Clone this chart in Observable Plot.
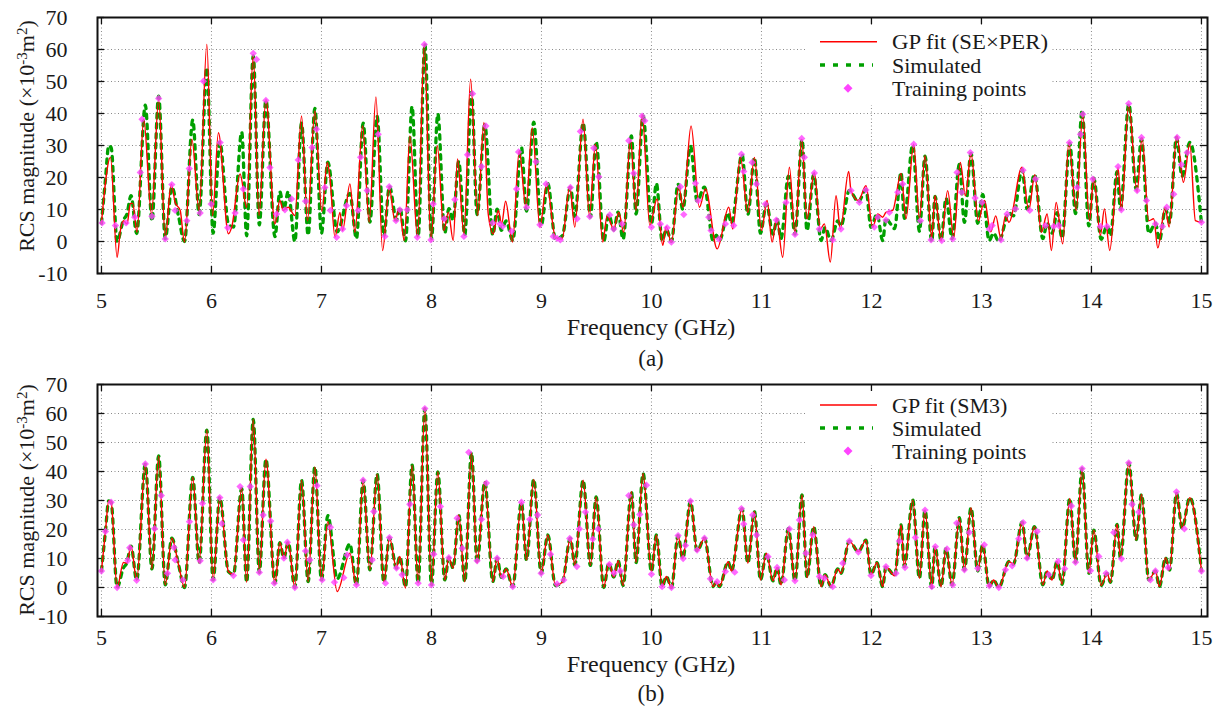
<!DOCTYPE html>
<html><head><meta charset="utf-8">
<script src="https://cdn.jsdelivr.net/npm/d3@7"></script>
<script src="https://cdn.jsdelivr.net/npm/@observablehq/plot@0.6"></script>
<style>
body{margin:0;background:#fff;}
#fig{position:relative;width:1217px;height:711px;font-family:"Liberation Serif",serif;color:#1a1a1a;overflow:hidden;}
#fig > *{position:absolute;}
.lbl{font-size:24px;white-space:nowrap;transform:translate(-50%,-50%);line-height:1;}
.cap{font-size:23px;white-space:nowrap;transform:translate(-50%,-50%);line-height:1;}
.ylbl{font-size:22px;white-space:nowrap;transform:translate(-50%,-50%) rotate(-90deg);line-height:1;}
.ylbl sup{font-size:15px;vertical-align:0.45em;line-height:0;}
</style></head><body><div id="fig"></div>
<script>
const xTicks = [5,6,7,8,9,10,11,12,13,14,15];
const yTicks = [-10,0,10,20,30,40,50,60,70];
const seriesLabels = ["GP fit (SE×PER)", "GP fit (SM3)", "Simulated", "Training points"];

// Simulated RCS magnitude (GHz, ×10^-3 m^2)
const simulated = [[5.000,5.7],[5.036,19.3],[5.066,29.9],[5.088,29.4],[5.142,0.0],[5.20,6.8],[5.23,8.4],[5.269,14.3],[5.32,2.5],[5.399,42.6],[5.459,6.4],[5.52,45.4],[5.58,0.9],[5.64,17.0],[5.70,8.0],[5.755,0.0],[5.83,38.0],[5.888,8.4],[5.958,54.3],[6.015,2.6],[6.076,31.1],[6.154,5.5],[6.20,4.5],[6.275,34.2],[6.32,1.8],[6.38,58.0],[6.435,5.2],[6.495,44.2],[6.577,1.5],[6.622,15.5],[6.658,10.1],[6.698,15.6],[6.758,0.0],[6.819,37.0],[6.879,2.0],[6.94,41.6],[7.0,2.6],[7.058,24.8],[7.143,3.0],[7.258,15.0],[7.318,0.9],[7.379,37.0],[7.44,6.1],[7.506,39.1],[7.567,1.8],[7.618,17.2],[7.682,6.7],[7.712,10.7],[7.764,0.2],[7.824,42.2],[7.879,1.5],[7.94,61.7],[8.0,0.9],[8.058,39.9],[8.121,2.6],[8.158,10.3],[8.197,6.7],[8.248,25.0],[8.303,2.0],[8.364,46.6],[8.415,8.4],[8.485,36.5],[8.558,2.0],[8.597,10.1],[8.635,3.5],[8.679,6.4],[8.739,0.3],[8.818,29.4],[8.864,9.5],[8.93,37.3],[8.997,4.9],[9.058,18.1],[9.127,0.7],[9.19,1.8],[9.263,17.0],[9.303,7.8],[9.379,37.0],[9.445,7.6],[9.497,31.2],[9.566,0.0],[9.612,8.4],[9.657,3.6],[9.697,9.2],[9.742,0.7],[9.818,33.0],[9.86,8.6],[9.924,39.3],[10.0,5.5],[10.045,18.1],[10.097,0.3],[10.136,3.8],[10.182,0.0],[10.242,17.9],[10.285,10.0],[10.355,29.8],[10.415,12.6],[10.482,17.0],[10.56,0.3],[10.59,2.0],[10.618,0.3],[10.697,8.9],[10.727,5.7],[10.824,27.2],[10.876,8.4],[10.936,26.2],[10.991,2.6],[11.045,11.8],[11.105,2.3],[11.142,6.9],[11.178,0.9],[11.245,20.4],[11.305,2.3],[11.369,31.9],[11.414,3.4],[11.475,21.0],[11.542,0.3],[11.578,4.4],[11.633,0.3],[11.693,6.4],[11.723,4.9],[11.799,16.0],[11.881,12.4],[11.95,16.3],[11.996,4.4],[12.05,8.6],[12.102,0.3],[12.132,7.2],[12.169,5.7],[12.21,4.0],[12.269,21.6],[12.299,7.2],[12.375,30.2],[12.436,3.2],[12.487,26.7],[12.548,0.0],[12.578,14.1],[12.633,0.3],[12.678,13.5],[12.733,0.9],[12.799,24.1],[12.845,6.0],[12.905,27.5],[12.966,5.7],[13.011,14.7],[13.07,0.3],[13.11,2.6],[13.158,0.0],[13.25,9.0],[13.29,8.0],[13.37,22.5],[13.415,10.1],[13.482,21.0],[13.558,0.9],[13.597,5.7],[13.642,2.6],[13.688,9.0],[13.733,1.1],[13.803,30.7],[13.855,8.7],[13.915,41.0],[13.976,4.9],[14.021,19.8],[14.088,0.7],[14.142,4.9],[14.173,1.8],[14.233,21.8],[14.264,10.1],[14.34,43.0],[14.406,16.4],[14.455,32.1],[14.521,2.6],[14.582,5.7],[14.618,0.3],[14.673,10.3],[14.71,6.0],[14.773,32.5],[14.824,20.4],[14.894,31.0],[15.0,5.7]];

// GP fit with SE×PER kernel (panel a)
const gpFitSEPER = [[5.0,5.8],[5.082,26.3],[5.142,-4.9],[5.172,3.4],[5.20,6.5],[5.233,5.5],[5.263,11.9],[5.284,11.9],[5.323,2.9],[5.384,38.2],[5.455,8.5],[5.52,44.4],[5.58,1.3],[5.634,18.0],[5.67,12.2],[5.716,9.7],[5.755,-0.2],[5.822,32.0],[5.888,9.7],[5.958,61.6],[6.01,8.1],[6.063,34.0],[6.154,2.4],[6.184,4.5],[6.26,21.1],[6.32,10.7],[6.38,58.4],[6.432,8.1],[6.495,44.4],[6.577,5.5],[6.622,12.8],[6.653,9.7],[6.698,10.7],[6.758,8.1],[6.819,39.2],[6.873,6.5],[6.94,40.8],[7.003,9.4],[7.053,24.7],[7.077,20.0],[7.123,1.3],[7.168,9.1],[7.192,3.4],[7.259,18.0],[7.304,2.9],[7.374,36.1],[7.434,6.0],[7.495,45.2],[7.556,-2.8],[7.616,16.9],[7.668,6.5],[7.707,10.2],[7.753,0.3],[7.804,33.0],[7.874,1.3],[7.935,61.6],[7.995,0.3],[8.053,29.9],[8.113,3.4],[8.153,9.1],[8.198,0.3],[8.237,25.8],[8.295,2.2],[8.356,50.7],[8.42,8.1],[8.477,37.2],[8.516,8.6],[8.562,2.4],[8.607,9.7],[8.638,5.5],[8.674,12.6],[8.737,-0.2],[8.798,28.3],[8.859,10.7],[8.916,35.6],[8.986,4.5],[9.047,18.0],[9.127,1.3],[9.188,0.8],[9.257,17.1],[9.303,4.5],[9.378,38.2],[9.436,8.1],[9.491,30.4],[9.557,-0.2],[9.597,8.1],[9.657,3.9],[9.703,9.1],[9.748,2.9],[9.809,32.0],[9.86,9.7],[9.915,39.8],[9.985,5.0],[10.051,13.3],[10.103,-1.2],[10.133,4.7],[10.181,-0.2],[10.248,17.1],[10.287,10.7],[10.36,36.1],[10.436,10.7],[10.491,16.4],[10.597,-2.3],[10.703,10.7],[10.739,3.9],[10.809,26.3],[10.876,9.1],[10.936,26.3],[11.0,3.4],[11.051,12.8],[11.097,-0.2],[11.138,7.1],[11.193,-4.9],[11.254,23.2],[11.305,2.4],[11.366,32.0],[11.414,7.1],[11.481,21.6],[11.535,3.9],[11.572,5.5],[11.626,-6.4],[11.678,14.3],[11.717,3.9],[11.793,21.9],[11.814,15.9],[11.881,12.8],[11.95,17.4],[12.011,4.5],[12.057,8.6],[12.102,7.6],[12.132,9.1],[12.193,9.7],[12.269,21.3],[12.314,7.1],[12.384,30.4],[12.436,7.1],[12.487,26.8],[12.548,1.1],[12.578,14.3],[12.633,0.3],[12.693,15.9],[12.748,1.3],[12.808,24.7],[12.854,14.3],[12.905,27.5],[12.972,6.5],[13.027,12.8],[13.085,3.0],[13.13,8.0],[13.178,0.8],[13.218,8.1],[13.25,6.0],[13.369,23.2],[13.43,9.7],[13.485,20.9],[13.545,2.9],[13.597,8.6],[13.636,-2.8],[13.679,12.2],[13.739,-0.7],[13.794,30.9],[13.861,9.7],[13.921,39.8],[13.982,6.5],[14.021,20.0],[14.081,1.9],[14.118,10.2],[14.166,-2.8],[14.242,23.2],[14.272,9.7],[14.339,42.9],[14.415,15.4],[14.46,32.5],[14.521,6.5],[14.566,7.1],[14.603,-2.0],[14.67,10.7],[14.706,4.5],[14.776,33.0],[14.836,18.5],[14.894,30.6],[14.945,6.5],[15.0,6.0]];

// GP fit with SM3 kernel (panel b)
const gpFitSM3 = [[5.000,5.7],[5.036,19.3],[5.066,29.9],[5.088,29.4],[5.142,0.0],[5.20,8.6],[5.23,8.4],[5.269,14.3],[5.32,2.5],[5.399,42.6],[5.459,6.4],[5.52,45.4],[5.58,0.9],[5.64,17.0],[5.70,8.0],[5.755,0.0],[5.83,38.0],[5.888,8.4],[5.958,54.3],[6.015,2.6],[6.076,31.1],[6.154,5.5],[6.20,4.5],[6.275,34.2],[6.32,1.8],[6.38,58.0],[6.435,5.2],[6.495,44.2],[6.577,1.5],[6.622,15.5],[6.658,10.1],[6.698,15.6],[6.758,0.0],[6.819,37.0],[6.879,2.0],[6.94,41.6],[7.0,2.6],[7.058,22.7],[7.143,-1.4],[7.258,11.8],[7.318,0.9],[7.379,37.0],[7.44,6.1],[7.506,39.1],[7.567,1.8],[7.618,17.2],[7.682,6.7],[7.712,10.7],[7.764,-0.2],[7.824,42.2],[7.879,1.5],[7.94,61.7],[8.0,0.9],[8.058,39.9],[8.121,2.6],[8.158,10.3],[8.197,6.7],[8.248,25.0],[8.303,2.0],[8.364,46.6],[8.415,8.4],[8.485,36.5],[8.558,2.0],[8.597,10.1],[8.635,3.5],[8.679,6.4],[8.739,0.3],[8.818,29.4],[8.864,9.5],[8.93,37.3],[8.997,4.9],[9.058,18.1],[9.127,0.7],[9.19,1.8],[9.263,17.0],[9.303,7.8],[9.379,37.0],[9.445,7.6],[9.497,31.2],[9.566,0.0],[9.612,8.4],[9.657,3.6],[9.697,9.2],[9.742,0.7],[9.818,33.0],[9.86,8.6],[9.924,39.3],[10.0,5.5],[10.045,18.1],[10.097,0.3],[10.136,3.8],[10.182,-0.2],[10.242,17.9],[10.285,10.0],[10.355,29.8],[10.415,12.6],[10.482,17.0],[10.56,0.3],[10.59,2.0],[10.618,0.3],[10.697,8.9],[10.727,5.7],[10.824,27.2],[10.876,8.4],[10.936,26.2],[10.991,2.6],[11.045,11.8],[11.105,2.3],[11.142,6.9],[11.178,0.9],[11.245,20.4],[11.305,2.3],[11.369,31.9],[11.414,3.4],[11.475,21.0],[11.542,0.3],[11.578,4.4],[11.633,0.3],[11.693,6.4],[11.723,4.9],[11.799,16.0],[11.881,12.4],[11.95,16.3],[11.996,4.4],[12.05,8.6],[12.102,0.3],[12.132,7.2],[12.169,5.7],[12.21,4.0],[12.269,21.6],[12.299,7.2],[12.375,30.2],[12.436,3.2],[12.487,26.7],[12.548,0.0],[12.578,14.1],[12.633,0.3],[12.678,13.5],[12.733,0.9],[12.799,24.1],[12.845,6.0],[12.905,27.5],[12.966,5.7],[13.011,14.7],[13.07,0.3],[13.11,2.6],[13.158,0.0],[13.25,9.0],[13.29,8.0],[13.37,22.5],[13.415,10.1],[13.482,21.0],[13.558,0.9],[13.597,5.7],[13.642,2.6],[13.688,9.0],[13.733,1.1],[13.803,30.7],[13.855,8.7],[13.915,41.0],[13.976,4.9],[14.021,19.8],[14.088,0.7],[14.142,4.9],[14.173,1.8],[14.233,21.8],[14.264,10.1],[14.34,43.0],[14.406,16.4],[14.455,32.1],[14.521,2.6],[14.582,5.7],[14.618,0.3],[14.673,10.3],[14.71,6.0],[14.773,32.5],[14.824,20.4],[14.894,31.0],[15.0,5.7]];

// Training points, panel a
const trainingA = [[5.006,5.8],[5.127,5.0],[5.224,5.8],[5.302,7.6],[5.353,21.6],[5.369,38.2],[5.459,7.9],[5.52,44.7],[5.58,0.8],[5.64,17.8],[5.67,9.7],[5.776,6.5],[5.798,22.8],[5.897,8.9],[5.927,50.1],[5.997,11.7],[6.079,30.9],[6.148,4.3],[6.215,8.9],[6.29,16.4],[6.38,58.8],[6.41,56.9],[6.495,44.1],[6.532,23.1],[6.592,8.6],[6.668,9.9],[6.728,13.3],[6.789,25.5],[6.855,12.6],[6.915,29.4],[6.955,35.1],[7.031,16.9],[7.08,9.7],[7.138,1.3],[7.192,3.9],[7.228,11.2],[7.334,9.7],[7.356,26.3],[7.416,15.9],[7.516,33.5],[7.577,1.6],[7.616,17.1],[7.677,6.5],[7.713,9.9],[7.78,9.9],[7.871,1.3],[7.935,61.6],[7.995,0.5],[8.016,11.7],[8.116,7.1],[8.213,13.1],[8.295,1.6],[8.328,27.1],[8.374,46.2],[8.456,23.4],[8.495,36.1],[8.556,5.8],[8.622,5.5],[8.647,4.7],[8.728,3.2],[8.774,16.4],[8.792,28.0],[8.865,10.7],[8.95,24.9],[8.986,5.2],[9.042,18.0],[9.107,1.6],[9.142,1.0],[9.172,0.5],[9.263,16.9],[9.324,7.1],[9.354,34.4],[9.439,7.8],[9.475,29.2],[9.521,20.2],[9.621,8.3],[9.657,3.9],[9.733,5.5],[9.794,31.5],[9.839,21.3],[9.915,39.2],[9.939,37.7],[10.0,4.5],[10.081,5.5],[10.142,4.3],[10.181,-0.2],[10.263,17.1],[10.294,8.4],[10.4,18.2],[10.424,12.8],[10.521,7.6],[10.542,3.4],[10.612,0.8],[10.672,5.5],[10.748,5.0],[10.818,27.3],[10.839,21.9],[10.915,24.7],[10.954,18.0],[11.036,11.7],[11.135,6.7],[11.223,12.2],[11.305,2.2],[11.366,32.2],[11.39,26.3],[11.481,21.4],[11.526,3.9],[11.648,0.5],[11.723,3.9],[11.814,15.9],[11.89,12.2],[11.95,16.1],[12.026,4.5],[12.057,7.6],[12.132,6.7],[12.163,9.1],[12.239,15.4],[12.284,18.0],[12.384,30.4],[12.445,6.5],[12.542,0.5],[12.639,0.3],[12.739,0.8],[12.778,21.6],[12.82,15.4],[12.899,27.8],[12.942,13.6],[13.005,12.2],[13.072,3.9],[13.097,5.0],[13.178,0.5],[13.233,8.6],[13.309,10.2],[13.378,22.3],[13.439,9.7],[13.491,19.5],[13.582,5.0],[13.657,4.7],[13.703,5.0],[13.8,30.9],[13.87,16.9],[13.9,33.5],[13.921,39.8],[14.012,19.5],[14.081,4.7],[14.142,4.7],[14.242,23.4],[14.272,9.9],[14.339,43.1],[14.415,15.9],[14.455,32.5],[14.5,12.8],[14.582,5.5],[14.645,4.7],[14.685,10.7],[14.748,14.8],[14.779,32.5],[14.818,24.0],[14.87,27.8],[15.0,6.0]];

// Training points, panel b
const trainingB = [[5.0,5.7],[5.036,19.3],[5.088,29.4],[5.142,0.0],[5.239,9.3],[5.257,13.7],[5.32,2.5],[5.399,42.6],[5.483,20.3],[5.544,31.7],[5.6,4.9],[5.659,13.8],[5.67,9.5],[5.74,2.6],[5.8,22.7],[5.897,9.2],[5.918,29.0],[6.015,2.6],[6.076,31.0],[6.094,22.0],[6.2,4.1],[6.26,34.8],[6.29,16.4],[6.353,34.8],[6.435,5.2],[6.47,25.0],[6.538,22.9],[6.571,1.5],[6.658,10.1],[6.69,15.6],[6.758,0.0],[6.855,12.6],[6.894,9.5],[6.96,35.1],[7.006,2.6],[7.082,20.8],[7.118,1.8],[7.203,3.4],[7.233,11.2],[7.318,0.9],[7.379,37.0],[7.461,9.5],[7.476,26.2],[7.582,1.5],[7.618,17.2],[7.682,6.7],[7.733,4.4],[7.803,28.7],[7.879,1.5],[7.94,61.7],[8.0,0.9],[8.021,11.5],[8.082,27.9],[8.158,10.3],[8.233,23.9],[8.279,13.5],[8.339,46.6],[8.415,9.2],[8.455,23.5],[8.5,36.0],[8.597,10.1],[8.652,3.8],[8.739,0.3],[8.818,29.4],[8.894,23.5],[8.964,25.0],[8.997,4.9],[9.082,11.5],[9.142,1.2],[9.203,2.6],[9.257,16.9],[9.322,7.2],[9.345,20.2],[9.4,26.0],[9.466,16.7],[9.515,20.2],[9.618,8.0],[9.66,5.0],[9.718,5.7],[9.794,31.7],[9.839,21.6],[9.894,25.2],[9.955,35.3],[10.0,4.6],[10.097,0.3],[10.182,0.0],[10.242,17.9],[10.288,10.0],[10.309,14.5],[10.355,29.8],[10.415,12.9],[10.482,17.0],[10.536,3.0],[10.597,2.0],[10.672,5.5],[10.757,5.3],[10.818,27.2],[10.839,21.9],[10.921,25.0],[10.955,18.1],[11.06,10.6],[11.142,6.9],[11.208,2.6],[11.254,20.2],[11.305,2.3],[11.345,23.3],[11.405,11.8],[11.466,18.1],[11.527,3.8],[11.572,3.2],[11.648,0.3],[11.739,8.4],[11.799,16.0],[11.881,12.2],[11.996,4.1],[12.132,7.2],[12.223,4.9],[12.254,16.0],[12.305,6.9],[12.399,17.2],[12.487,26.7],[12.548,0.3],[12.581,14.1],[12.687,13.3],[12.739,0.9],[12.775,22.2],[12.845,6.1],[12.89,19.0],[12.966,6.6],[13.026,14.7],[13.072,0.6],[13.158,0.0],[13.218,6.1],[13.279,7.5],[13.339,16.8],[13.379,22.4],[13.415,10.1],[13.506,19.3],[13.612,4.4],[13.697,9.0],[13.757,6.5],[13.818,28.1],[13.855,8.7],[13.915,41.0],[13.991,5.8],[14.067,10.7],[14.133,4.9],[14.203,19.0],[14.273,9.9],[14.339,43.0],[14.369,28.7],[14.43,26.0],[14.536,2.6],[14.582,5.7],[14.697,6.9],[14.773,33.0],[14.845,20.2],[15.0,5.7]];

const RED = "#ff0000", GREEN = "#00a000", PINK = "#ff44ff";
const W = 1217, ML = 97, MR = 10;
const fig = document.getElementById("fig");

function panel(gp, train, H, mt, mb, padX) {
  const innerH = H - mt - mb, innerW = W - ML - MR, tk = 7;
  const fx = d => d[0], fy = d => d[1];
  const svg = Plot.plot({
    width: W, height: H, marginLeft: ML, marginRight: MR, marginTop: mt, marginBottom: mb,
    style: {fontFamily: '"Liberation Serif", serif', fontSize: "22px", color: "#1a1a1a", background: "transparent"},
    x: {domain: [4.964, 15.055], ticks: xTicks, tickSize: 0, tickPadding: padX, label: null, tickFormat: d => String(d)},
    y: {domain: [-10, 70], ticks: yTicks, tickSize: 0, tickPadding: 30, label: null, tickFormat: d => String(d)},
    marks: [
      Plot.ruleX(xTicks, {stroke: "#8a8a8a", strokeDasharray: "1,2.5", strokeWidth: 1}),
      Plot.ruleY(yTicks, {stroke: "#8a8a8a", strokeDasharray: "1,2.5", strokeWidth: 1}),
      Plot.tickX(xTicks, {insetTop: innerH - tk, stroke: "#111", strokeWidth: 1.3}),
      Plot.tickX(xTicks, {insetBottom: innerH - tk, stroke: "#111", strokeWidth: 1.3}),
      Plot.tickY(yTicks, {insetRight: innerW - tk, stroke: "#111", strokeWidth: 1.3}),
      Plot.tickY(yTicks, {insetLeft: innerW - tk, stroke: "#111", strokeWidth: 1.3}),
      Plot.line(simulated, {x: fx, y: fy, stroke: GREEN, strokeWidth: 3.3, strokeDasharray: "4.5,5.5", curve: "monotone-x"}),
      Plot.line(gp, {x: fx, y: fy, stroke: RED, strokeWidth: 1.4, curve: "monotone-x"}),
      Plot.dot(train, {x: fx, y: fy, symbol: "diamond2", r: 3.3, fill: PINK, fillOpacity: 0.8, stroke: "none"}),
      Plot.frame({stroke: "#111", strokeWidth: 2})
    ]
  });
  return svg;
}

function legendBox(left, top, w, h, rows, gpLabel, gpLen) {
  const d = document.createElement("div");
  d.style.cssText = `left:${left}px;top:${top}px;width:${w}px;height:${h}px;background:#fff;`;
  const [r1, r2, r3] = rows;
  const fit = gpLen ? ` textLength="${gpLen}" lengthAdjust="spacingAndGlyphs"` : "";
  d.innerHTML = `<svg width="${w}" height="${h}" style="display:block;font-family:'Liberation Serif',serif;font-size:22px;fill:#1a1a1a">
    <line x1="15" x2="72" y1="${r1}" y2="${r1}" stroke="${RED}" stroke-width="1.4"/>
    <line x1="15" x2="68" y1="${r2}" y2="${r2}" stroke="${GREEN}" stroke-width="3.3" stroke-dasharray="5,8"/>
    <path d="M43,${r3-4.5}L47.5,${r3}L43,${r3+4.5}L38.5,${r3}Z" fill="${PINK}"/>
    <text x="87" y="${r1}" dy="0.35em"${fit}>${gpLabel}</text>
    <text x="87" y="${r2}" dy="0.35em">${seriesLabels[2]}</text>
    <text x="87" y="${r3}" dy="0.35em">${seriesLabels[3]}</text>
  </svg>`;
  fig.appendChild(d);
}
function label(html, x, y, cls) {
  const d = document.createElement("div");
  d.className = cls || "lbl";
  d.style.left = x + "px"; d.style.top = y + "px";
  d.innerHTML = html;
  fig.appendChild(d);
}

const a = panel(gpFitSEPER, trainingA, 345, 17, 72, 19);
a.style.left = "0px"; a.style.top = "0px";
fig.appendChild(a);
const b = panel(gpFitSM3, trainingB, 316, 14, 70, 13);
b.style.left = "0px"; b.style.top = "370px";
fig.appendChild(b);

const yl = 'RCS magnitude (×10<sup>-3</sup>m<sup>2</sup>)';
label(yl, 27, 136, "ylbl");
label(yl, 27, 500, "ylbl");
label("Frequency (GHz)", 651, 327);
label("(a)", 651, 358, "cap");
label("Frequency (GHz)", 651, 664);
label("(b)", 651, 693, "cap");
legendBox(805, 25, 245, 80, [16.7, 40, 63.3], seriesLabels[0], 156);
legendBox(805, 391, 245, 74, [14, 37, 60], seriesLabels[1]);
</script></body></html>
